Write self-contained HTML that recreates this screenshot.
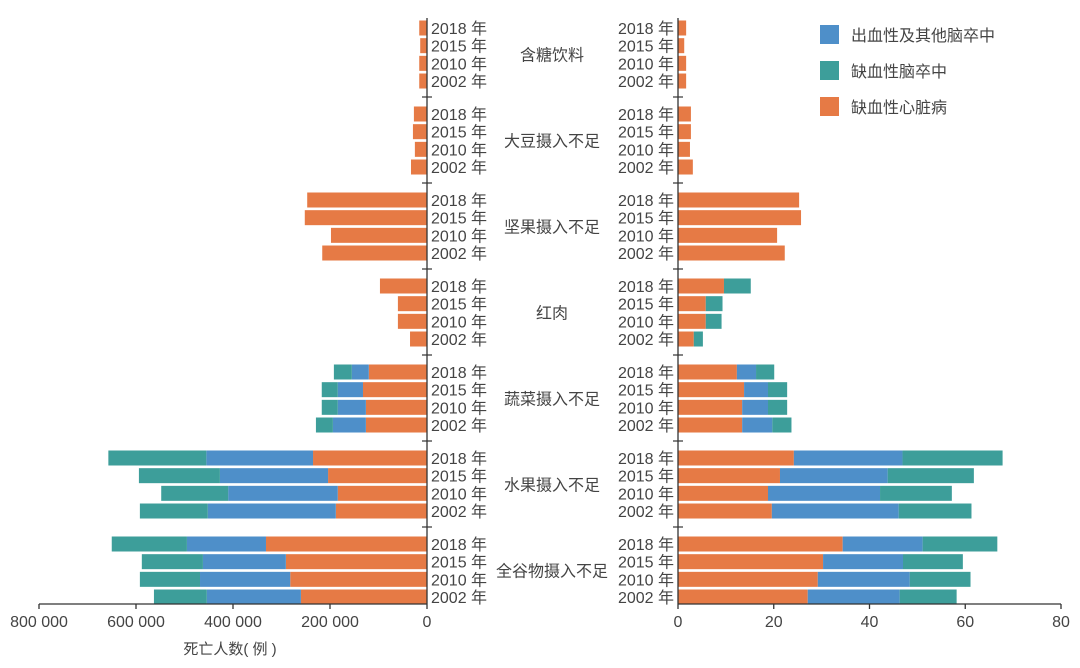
<!DOCTYPE html>
<html><head><meta charset="utf-8"><style>
body{margin:0;background:#fff;}
svg{display:block;font-family:"Liberation Sans","Noto Sans CJK SC",sans-serif;}
text{fill:#444;}
</style></head><body>
<svg id="chart" width="1080" height="668" viewBox="0 0 1080 668" xmlns="http://www.w3.org/2000/svg">
<g id="bars"></g><g id="labels"></g><g id="axes"></g>
<g id="legend">
 <rect x="820" y="25" width="19" height="19" fill="#4e8fc9"/>
 <text x="851" y="41" font-size="16">出血性及其他脑卒中</text>
 <rect x="820" y="61" width="19" height="19" fill="#3d9e9a"/>
 <text x="851" y="77" font-size="16">缺血性脑卒中</text>
 <rect x="820" y="97" width="19" height="19" fill="#e67a45"/>
 <text x="851" y="113" font-size="16">缺血性心脏病</text>
</g>
</svg>
<script>
const categories=["含糖饮料","大豆摄入不足","坚果摄入不足","红肉","蔬菜摄入不足","水果摄入不足","全谷物摄入不足"];
const years=["2018 年","2015 年","2010 年","2002 年"];
// left: deaths (count); order per category: 2018,2015,2010,2002
const leftIHD=[[16000,14000,16000,16000],[27000,29000,25000,33000],[247000,252000,198000,216000],[97000,60000,60000,35000],[120000,132000,126000,126000],[235000,204000,184000,188000],[332000,291000,282000,260000]];
const leftHem=[[0,0,0,0],[0,0,0,0],[0,0,0,0],[0,0,0,0],[35000,52000,58000,68000],[220000,223000,226000,264000],[163000,171000,186000,194000]];
const leftIsc=[[0,0,0,0],[0,0,0,0],[0,0,0,0],[0,0,0,0],[37000,33000,33000,35000],[202000,167000,138000,140000],[155000,126000,124000,109000]];
// right: rate
const rightIHD=[[1.7,1.3,1.7,1.7],[2.7,2.7,2.5,3.1],[25.3,25.7,20.7,22.3],[9.6,5.8,5.8,3.3],[12.3,13.8,13.4,13.4],[24.2,21.3,18.8,19.6],[34.4,30.3,29.2,27.1]];
const rightHem=[[0,0,0,0],[0,0,0,0],[0,0,0,0],[0,0,0,0],[4.0,5.0,5.4,6.3],[22.7,22.5,23.4,26.5],[16.7,16.7,19.2,19.2]];
const rightIsc=[[0,0,0,0],[0,0,0,0],[0,0,0,0],[5.6,3.5,3.3,1.9],[3.8,4.0,4.0,4.0],[20.9,18,15,15.2],[15.6,12.5,12.7,11.9]];
const leftTicks=[800000,600000,400000,200000,0];
const leftTickLabels=["800 000","600 000","400 000","200 000","0"];
const rightTicks=[0,20,40,60,80];

const NS="http://www.w3.org/2000/svg";
const L0=427,LMAX=800000,LW=388;
const R0=678,RMAX=80,RW=383;
const xl=v=>L0-v/LMAX*LW;
const xr=v=>R0+v/RMAX*RW;
const rowY=(g,i)=>28+g*86+i*17.67;
const BH=15;
const colors={ihd:"#e67a45",hem:"#4e8fc9",isc:"#3d9e9a"};
function mk(tag,attrs,parent){const e=document.createElementNS(NS,tag);for(const k in attrs)e.setAttribute(k,attrs[k]);parent.appendChild(e);return e;}
const bars=document.getElementById('bars'),labels=document.getElementById('labels'),axes=document.getElementById('axes');
categories.forEach((c,g)=>{
 years.forEach((y,i)=>{
  const cy=rowY(g,i);
  let acc=0;
  [[leftIHD,'ihd'],[leftHem,'hem'],[leftIsc,'isc']].forEach(([arr,k])=>{
   const v=arr[g][i]; if(!v)return;
   const r=mk('rect',{x:xl(acc+v),y:cy-BH/2,width:xl(acc)-xl(acc+v),height:BH,fill:colors[k]},bars);
   
   
   acc+=v;
  });
  acc=0;
  [[rightIHD,'ihd'],[rightHem,'hem'],[rightIsc,'isc']].forEach(([arr,k])=>{
   const v=arr[g][i]; if(!v)return;
   const r=mk('rect',{x:xr(acc),y:cy-BH/2,width:xr(acc+v)-xr(acc),height:BH,fill:colors[k]},bars);
   
   
   acc+=v;
  });
  const t1=mk('text',{x:431,y:cy+6,'font-size':16},labels);t1.textContent=y;
  
  
  const t2=mk('text',{x:674,y:cy+6,'font-size':16,'text-anchor':'end'},labels);t2.textContent=y;
  
  
 });
 const gl=mk('text',{x:552,y:rowY(g,1.5)+6,'font-size':16,'text-anchor':'middle'},labels);gl.textContent=c;
 
 
 if(g>0){const sy=rowY(g,0)-17;
  mk('line',{x1:L0-5,x2:L0+5,y1:sy,y2:sy,stroke:'#333','stroke-width':1.2},axes);
  mk('line',{x1:R0-5,x2:R0+5,y1:sy,y2:sy,stroke:'#333','stroke-width':1.2},axes);}
});
const st={stroke:'#333','stroke-width':1.3};
const la=mk('line',Object.assign({x1:L0,x2:L0,y1:18,y2:604},st),axes);

const ra=mk('line',Object.assign({x1:R0,x2:R0,y1:18,y2:604},st),axes);

const lx=mk('line',Object.assign({x1:xl(LMAX),x2:L0,y1:604,y2:604},st),axes);

const rx=mk('line',Object.assign({x1:R0,x2:xr(RMAX),y1:604,y2:604},st),axes);

leftTicks.forEach((v,i)=>{
 mk('line',Object.assign({x1:xl(v),x2:xl(v),y1:604,y2:609},st),axes);
 const t=mk('text',{x:xl(v),y:627,'font-size':16,'text-anchor':'middle'},axes);t.textContent=leftTickLabels[i];
 
 
});
rightTicks.forEach(v=>{
 mk('line',Object.assign({x1:xr(v),x2:xr(v),y1:604,y2:609},st),axes);
 const t=mk('text',{x:xr(v),y:627,'font-size':16,'text-anchor':'middle'},axes);t.textContent=v;
 
 
});
const xt=mk('text',{x:230,y:654,'font-size':15,'text-anchor':'middle'},axes);xt.textContent='死亡人数( 例 )';


</script>
</body></html>
